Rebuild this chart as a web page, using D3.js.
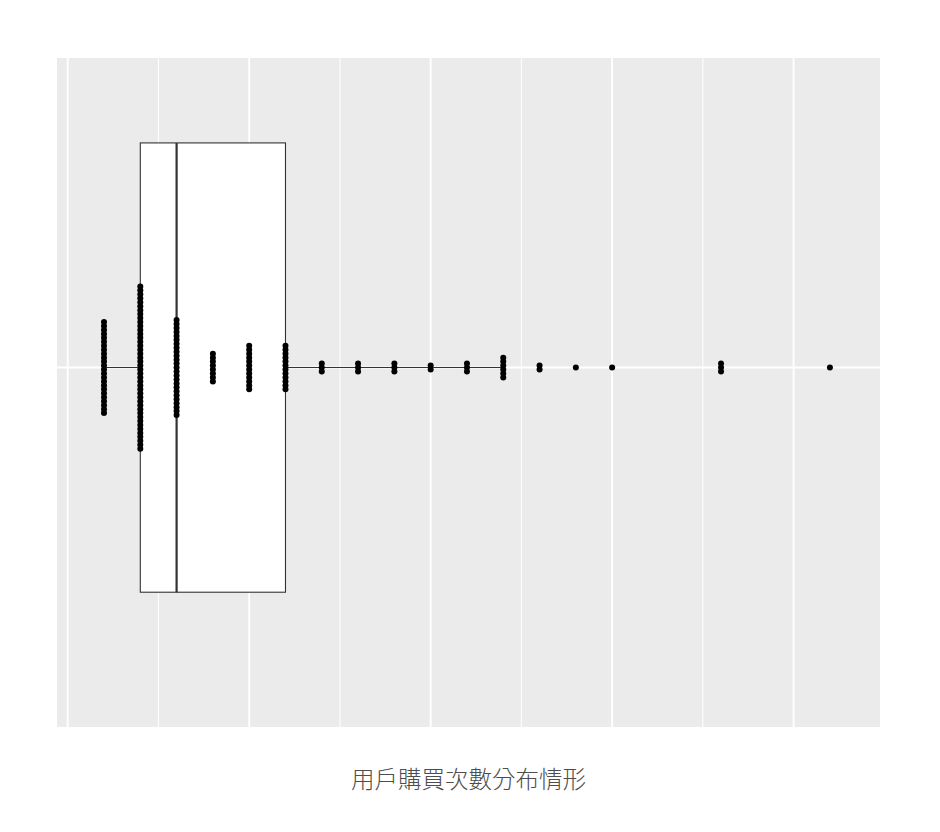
<!DOCTYPE html>
<html>
<head>
<meta charset="utf-8">
<script src="https://cdn.jsdelivr.net/npm/d3@7"></script>
<style>
  html, body { margin: 0; padding: 0; background: #ffffff; }
  svg { display: block; }
</style>
</head>
<body>
<svg id="chart" width="940" height="832"></svg>
<script>
// Purchase counts (x values) and how many users made that many purchases
const purchaseCounts = [1, 2, 3, 4, 5, 6, 7, 8, 9, 10, 11, 12, 13, 14, 15, 18, 21];
const userCounts     = [24, 42, 25, 8, 12, 12, 3, 3, 3, 2, 3, 6, 2, 1, 1, 3, 1];
const majorBreaks = [0, 5, 10, 15, 20];
const minorBreaks = [2.5, 7.5, 12.5, 17.5];
const axisTitle = "用戶購買次數分布情形";

// Expand to the raw observations
const observations = [];
purchaseCounts.forEach((v, i) => { for (let k = 0; k < userCounts[i]; k++) observations.push(v); });
observations.sort((a, b) => a - b);

const q1 = d3.quantile(observations, 0.25);
const med = d3.quantile(observations, 0.5);
const q3 = d3.quantile(observations, 0.75);
const iqr = q3 - q1;
const lowWhisker = d3.min(observations.filter(v => v >= q1 - 1.5 * iqr));
const highWhisker = d3.max(observations.filter(v => v <= q3 + 1.5 * iqr));

const svg = d3.select("#chart");
const panel = { left: 57, right: 880, top: 58, bottom: 727 };

const x = d3.scaleLinear().domain([-0.295, 22.38]).range([panel.left, panel.right]);
const y = d3.scaleLinear().domain([-0.80, 0.689]).range([panel.bottom, panel.top]);

// Panel background
svg.append("rect")
  .attr("x", panel.left).attr("y", panel.top)
  .attr("width", panel.right - panel.left).attr("height", panel.bottom - panel.top)
  .attr("fill", "#ebebeb");

// Grid lines
svg.append("g").selectAll("line").data(minorBreaks).join("line")
  .attr("x1", d => x(d)).attr("x2", d => x(d))
  .attr("y1", panel.top).attr("y2", panel.bottom)
  .attr("stroke", "#ffffff").attr("stroke-width", 1);
svg.append("g").selectAll("line").data(majorBreaks).join("line")
  .attr("x1", d => x(d)).attr("x2", d => x(d))
  .attr("y1", panel.top).attr("y2", panel.bottom)
  .attr("stroke", "#ffffff").attr("stroke-width", 1.9);
svg.append("line")
  .attr("x1", panel.left).attr("x2", panel.right)
  .attr("y1", y(0)).attr("y2", y(0))
  .attr("stroke", "#ffffff").attr("stroke-width", 1.9);

// Whiskers
const boxG = svg.append("g");
boxG.append("line")
  .attr("x1", x(lowWhisker)).attr("x2", x(q1))
  .attr("y1", y(0)).attr("y2", y(0))
  .attr("stroke", "#333333").attr("stroke-width", 1.1);
boxG.append("line")
  .attr("x1", x(q3)).attr("x2", x(highWhisker))
  .attr("y1", y(0)).attr("y2", y(0))
  .attr("stroke", "#333333").attr("stroke-width", 1.1);

// Box
boxG.append("rect")
  .attr("x", x(q1)).attr("y", y(0.5))
  .attr("width", x(q3) - x(q1)).attr("height", y(-0.5) - y(0.5))
  .attr("fill", "#ffffff").attr("stroke", "#333333").attr("stroke-width", 1.1);
boxG.append("line")
  .attr("x1", x(med)).attr("x2", x(med))
  .attr("y1", y(0.5)).attr("y2", y(-0.5))
  .attr("stroke", "#333333").attr("stroke-width", 2.2);

// Dots stacked around center
const step = 3.96;
const dots = [];
purchaseCounts.forEach((v, i) => {
  const n = userCounts[i];
  for (let k = 0; k < n; k++) dots.push({ v, off: (k - (n - 1) / 2) * step });
});
svg.append("g").selectAll("circle").data(dots).join("circle")
  .attr("cx", d => x(d.v))
  .attr("cy", d => y(0) + d.off)
  .attr("r", 3)
  .attr("fill", "#000000");

// Axis title
svg.append("text")
  .attr("x", (panel.left + panel.right) / 2)
  .attr("y", 788)
  .attr("text-anchor", "middle")
  .attr("font-family", "'Noto Sans CJK TC', 'Noto Sans CJK SC', sans-serif")
  .attr("font-size", 23.5)
  .attr("font-weight", 300)
  .attr("fill", "#4d4d4d")
  .text(axisTitle);
</script>
</body>
</html>
